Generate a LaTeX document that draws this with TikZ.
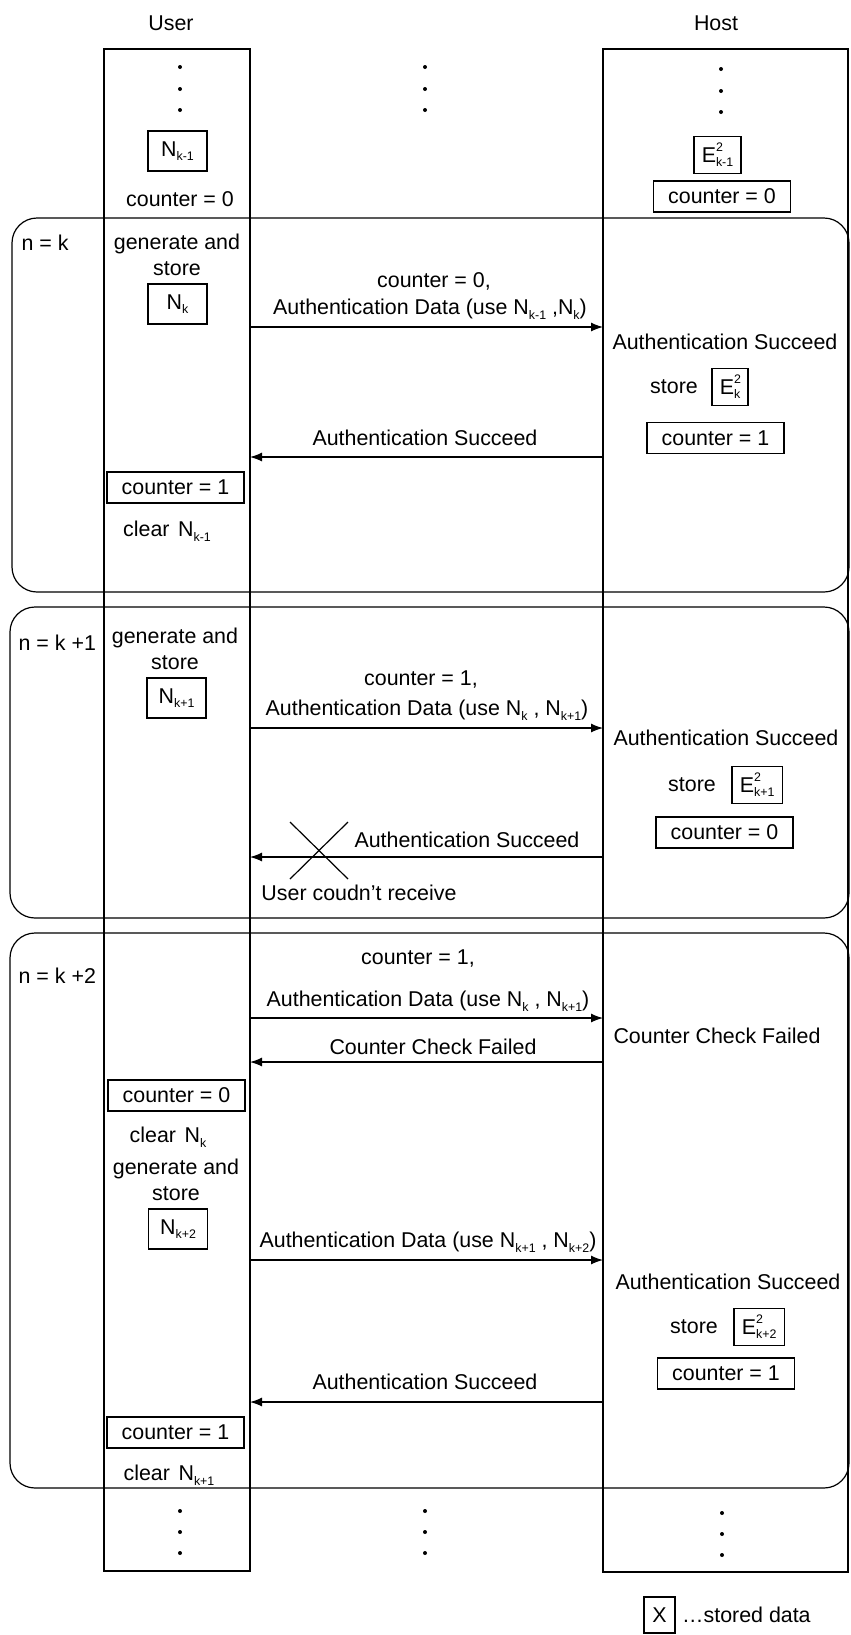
\documentclass[tikz,border=0pt]{standalone}
\usepackage{fontspec}
\setmainfont{Liberation Sans}
\usetikzlibrary{positioning,arrows.meta}

\newcommand{\idxfont}{\fontsize{6.2}{7}\selectfont}
\newcommand{\idx}[1]{\raisebox{-0.4ex}{\idxfont #1}}
\newcommand{\Nsub}[1]{N\idx{#1}}
\newcommand{\Esq}[1]{E\makebox[0pt][l]{\raisebox{0.92ex}{\idxfont 2}}\idx{#1}}

\tikzset{%
  lane/.style   = {draw},
  phase/.style  = {draw, rounded corners=12.5pt},
  nonce/.style  = {draw, rectangle, minimum width=29.5pt, minimum height=20pt,
    inner sep=0pt},
  hashed/.style = {draw, rectangle, minimum height=18.5pt, inner xsep=3.9pt,
    inner ysep=0pt},
  cnt/.style    = {draw, rectangle, minimum width=68.5pt, minimum height=15.5pt,
    inner sep=0pt},
  txt/.style    = {inner sep=0pt, align=center},
  dot/.style    = {circle, fill, inner sep=0pt, minimum size=2pt}
}

\begin{document}
\begin{tikzpicture}[x=0.5pt, y=-0.5pt, line width=0.6pt,
    >={Latex[length=6pt,width=4.5pt]}, font=\fontsize{10.7}{13}\selectfont]

  \useasboundingbox (0,0) rectangle (851,1635);

  % lanes
  \node[txt] (userhd) at (171,23) {User};
  \node[txt] (hosthd) at (716,23) {Host};
  \draw[lane] (104,49) rectangle (250,1571);
  \draw[lane] (603,49) rectangle (848,1572);

  % phases
  \draw[phase] (12,218) rectangle (849,592);
  \draw[phase] (10,607) rectangle (849,918);
  \draw[phase] (10,933) rectangle (849,1488);

  % dots
  \foreach \y [count=\i] in {67,89,110} {
    \node[dot] (udt\i) at (180,\y) {};
    \node[dot] (mdt\i) at (425,\y) {};
    \node[dot] (hdt\i) at (721,\y+2) {};
  }
  \foreach \y [count=\i] in {1511,1532,1553} {
    \node[dot] (udb\i) at (180,\y) {};
    \node[dot] (mdb\i) at (425,\y) {};
    \node[dot] (hdb\i) at (722,\y+2) {};
  }

  % before n = k
  \node[nonce] (nkm1) at (177.5,151) {\Nsub{k-1}};
  \node[txt] (ucnt0) at (180,199) {counter = 0};
  \node[hashed] (ekm1) at (717.5,155) {\Esq{k-1}};
  \node[cnt] (hcnt0) at (722,196.5) {counter = 0};

  % n = k
  \node[txt, anchor=west] (phk) at (21,243) {n = k};
  \node[txt] (gen1) at (177,254.5) {generate and\\store};
  \node[nonce] (nk) at (177.5,304) {\Nsub{k}};
  \coordinate (s1u) at (250,327);
  \coordinate (s1h) at (603,327);
  \draw[->] (s1u) -- (s1h);
  \node[txt] (s1a) at (434,281) {counter = 0,};
  \node[txt] (s1b) at (430,309) {Authentication Data (use \Nsub{k-1} ,\Nsub{k})};
  \node[txt] (ok1) at (725,342) {Authentication Succeed};
  \node[txt] (st1) at (674,387) {store};
  \node[hashed, right=6.5pt of st1] (ek) {\Esq{k}};
  \node[cnt] (hcnt1) at (715.5,438) {counter = 1};
  \coordinate (r1h) at (603,457);
  \coordinate (r1u) at (250,457);
  \draw[->] (r1h) -- (r1u);
  \node[txt] (r1a) at (425,438) {Authentication Succeed};
  \node[cnt] (ucnt1) at (175.5,487.5) {counter = 1};
  \node[txt] (clr1) at (167,531) {clear\hspace{0.4em}\Nsub{k-1}};

  % n = k+1
  \node[txt, anchor=west] (phk1) at (18,643) {n = k +1};
  \node[txt] (gen2) at (175,649) {generate and\\store};
  \node[nonce] (nk1) at (176.5,698) {\Nsub{k+1}};
  \coordinate (s2u) at (250,728);
  \coordinate (s2h) at (603,728);
  \draw[->] (s2u) -- (s2h);
  \node[txt] (s2a) at (421,679) {counter = 1,};
  \node[txt] (s2b) at (427,710) {Authentication Data (use \Nsub{k} , \Nsub{k+1})};
  \node[txt] (ok2) at (726,738) {Authentication Succeed};
  \node[txt] (st2) at (692,785) {store};
  \node[hashed, right=7.5pt of st2] (ek1) {\Esq{k+1}};
  \node[cnt] (hcnt2) at (724.5,832.5) {counter = 0};
  \coordinate (r2h) at (603,857);
  \coordinate (r2u) at (250,857);
  \draw[->] (r2h) -- (r2u);
  \node[txt] (r2a) at (467,840) {Authentication Succeed};
  \draw (290,822) -- (348,879);
  \draw (348,822) -- (290,879);
  \node[txt] (lost) at (359,893) {User coudn’t receive};

  % n = k+2
  \node[txt, anchor=west] (phk2) at (18,976) {n = k +2};
  \coordinate (s3u) at (250,1018);
  \coordinate (s3h) at (603,1018);
  \draw[->] (s3u) -- (s3h);
  \node[txt] (s3a) at (418,958) {counter = 1,};
  \node[txt] (s3b) at (428,1001) {Authentication Data (use \Nsub{k} , \Nsub{k+1})};
  \node[txt] (fail) at (717,1036) {Counter Check Failed};
  \coordinate (r3h) at (603,1062);
  \coordinate (r3u) at (250,1062);
  \draw[->] (r3h) -- (r3u);
  \node[txt] (r3a) at (433,1047) {Counter Check Failed};
  \node[cnt] (ucnt2) at (176.5,1095.5) {counter = 0};
  \node[txt] (clr2) at (168,1137) {clear\hspace{0.4em}\Nsub{k}};
  \node[txt] (gen3) at (176,1180) {generate and\\store};
  \node[nonce] (nk2) at (178,1229) {\Nsub{k+2}};
  \coordinate (s4u) at (250,1260);
  \coordinate (s4h) at (603,1260);
  \draw[->] (s4u) -- (s4h);
  \node[txt] (s4b) at (428,1242) {Authentication Data (use \Nsub{k+1} , \Nsub{k+2})};
  \node[txt] (ok3) at (728,1282) {Authentication Succeed};
  \node[txt] (st3) at (694,1327) {store};
  \node[hashed, right=7.5pt of st3] (ek2) {\Esq{k+2}};
  \node[cnt] (hcnt3) at (726,1373.5) {counter = 1};
  \coordinate (r4h) at (603,1402);
  \coordinate (r4u) at (250,1402);
  \draw[->] (r4h) -- (r4u);
  \node[txt] (r4a) at (425,1382) {Authentication Succeed};
  \node[cnt] (ucnt3) at (175.5,1432.5) {counter = 1};
  \node[txt] (clr3) at (169,1475) {clear\hspace{0.4em}\Nsub{k+1}};

  % legend
  \node[draw, minimum width=15.5pt, minimum height=18pt, inner sep=0pt] (legx)
    at (659.5,1615) {X};
  \node[txt, right=3pt of legx] (legt) {…stored data};

\end{tikzpicture}
\end{document}
